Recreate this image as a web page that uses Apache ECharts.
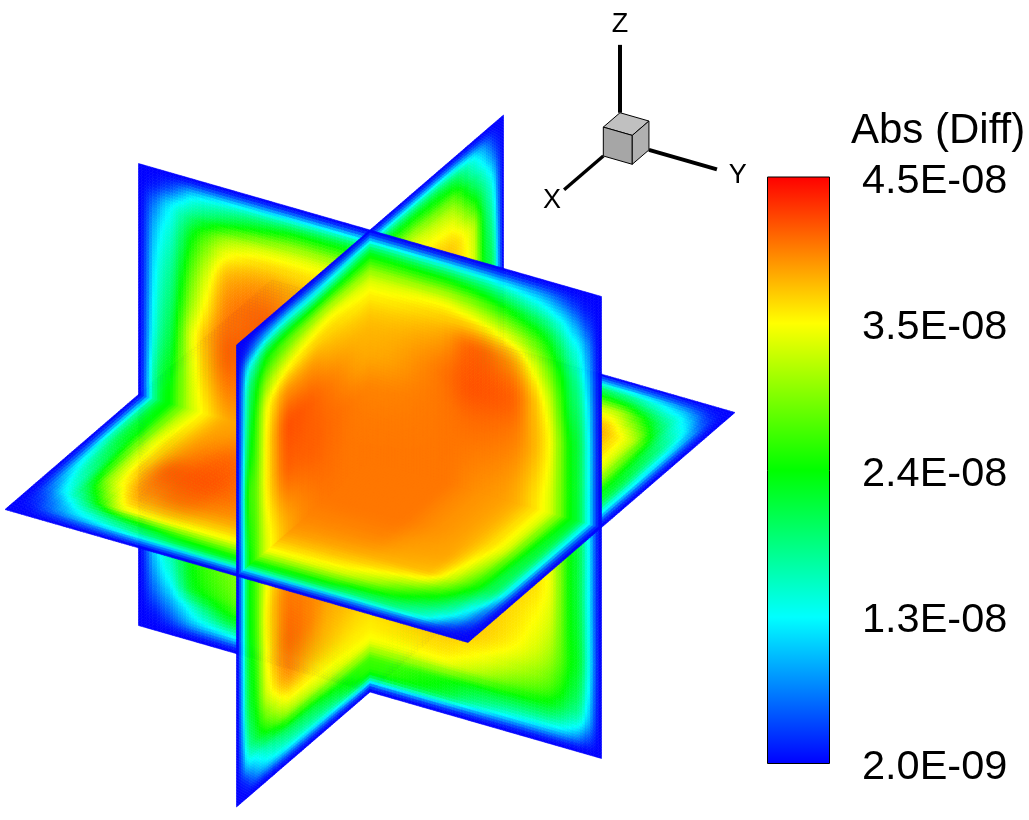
<!DOCTYPE html>
<html><head><meta charset="utf-8">
<style>html,body{margin:0;padding:0;background:#fff}#c{width:1029px;height:820px}</style>
<script src="https://cdn.jsdelivr.net/npm/echarts@6/dist/echarts.min.js"></script>
</head><body><div id="c"></div>
<script>
// Values are in units of 1E-9 at these plane coordinates (-1..1).
const gridNodes = [-1,-.94,-.85,-.77,-.6,-.45,-.3,0,.3,.45,.6,.77,.85,.94,1];
const edge = [2,2,2,2,2,2,2,2,2,2,2,2,2,2,2];
// sheet running left-back to right-front; rows z=+1..-1, columns -1..1
const planeA = [
 edge,
 [2,2.5,5,9,11,12,13,14,13,12,10,7,4.5,2.5,2],
 [2,6,13,17,22,25,27,27,27,25,21,15,11,5,2],
 [2,8,15,22,31,33,33.5,33,34,32,28,21,15,8,2],
 [2,10,18,27,38,39,38,37,38.5,41,39,29,21,11,2],
 [2,11,20,30,40,41,39,38,40,41.5,41,33,23,13,2],
 [2,12,22,33,41,41,40,39.5,40,40.5,40,34.5,25,14,2],
 [2,15,25,32,38,38.5,39,40,40,39,38,33,25,14,2],
 [2,12,22,30,33,35,36,39,38,37.5,37,34,25,14,2],
 [2,11,20,27,31,33,34.5,37.5,37.5,37,36,33,25,14.5,2],
 [2,10,18,24,29,31,33,36,37,36.5,35,31,25,15,2],
 [2,7,14,22,27,30,32,34,34,32,29,26,22,13,2],
 [2,5,10,15,23,25,26,27,25,23,22,21,18,11,2],
 [2,2.5,5,8,11,14,16,18,16,13,11,10,9,5,2],
 edge];
// sheet running right-back to left-front; rows z=+1..-1, columns -1..1
const planeB = [
 edge,
 [2,3,7,10,13,14,14,14,11,10,10,8,6,3,2],
 [2,6,13,17,25,26,27,27,27,26,25,22,17,9,2],
 [2,9,17,22,31,32,33,33,34,33,31,27,22,12,2],
 [2,12,22,32,36.5,37,37,37,38,39,39,34,26,14,2],
 [2,14,23,33,37,38,38,38,40,41,41.5,35,27,16,2],
 [2,15,24,34,38,38.5,39,39.5,40.5,41,41,35,28,18,2],
 [2,15,25,33,38,38.5,39,40,40,39.5,38,33,27,16,2],
 [2,15,24,33,38,38.5,39,39,39,39.5,40,35,27,16,2],
 [2,14,24,33,37,38,38,37.5,38,39.5,40.5,34.5,26,15.5,2],
 [2,14,24,32,36,36.5,37,36,37,38,39,33,25,15,2],
 [2,11,20,27,32,32.5,33,34,33,32,31,25,21,12,2],
 [2,8,14,20,24,25,26,27,24,22,21,17,14,9,2],
 [2,3,7,10,13,15,16,18,13,12,11,9,7,3,2],
 edge];
// horizontal sheet; rows back..front (-1..1), columns -1..1
const planeC = [
 edge,
 [2,2.5,5,9,12,13,14,14,14,12.5,11,8,6,3,2],
 [2,5,10,16,23,25,27,27,26,25,23,16,13,6,2],
 [2,7,15,22,30,32,33,33,33,33,32,22,16,9,2],
 [2,11,20,30,37,37.5,38,38,39,39,38.5,32,22,12,2],
 [2,12,22,32,37.5,38,38.5,38.5,39.5,39.5,39,33,24,13,2],
 [2,13,24,33,38,38.5,39,39,40,40,39,34,25,14,2],
 [2,15,25,32,38,38.5,39,40,40,39,38,33,25,14,2],
 [2,14,24,33,39.5,41,40.5,40,40,39,38,33,24,14,2],
 [2,12,22,32,41,41.5,40.5,39.5,39.5,38.5,38,31,23,13.5,2],
 [2,10,19,30,39.5,40.5,39.5,38.5,38,37.5,37,28,22,13,2],
 [2,6,14,20,34,35,34.5,34,33,31,27,21,16,8,2],
 [2,4,9,14,21,24,26,27,26,24,22,17,13,6,2],
 [2,2.5,5,7,10,12,13,14,13,12,12,10,6,3,2],
 edge];
const colorStops = ['#0000ff','#00ffff','#00ff00','#ffff00','#ff0000'];
const colorMin = 2, colorMax = 45;
const tickLabels = ['2.0E-09','1.3E-08','2.4E-08','3.5E-08','4.5E-08'];
const legendTitle = 'Abs (Diff)';
const triadLabels = ['X','Y','Z'];

// Scene projection (orthographic view of the three sheets)
const view = {o:[370,461], a:[231.5,66.5], b:[-133.5,115], z:[0,-231]};
const triad = {o:[620,141.6], scale:1/8, axisLen:3.35, labelAt:4.07};
function project(a, b, z, s, o){
  s = s||1; o = o||view.o;
  return [o[0]+s*(a*view.a[0]+b*view.b[0]+z*view.z[0]), o[1]+s*(a*view.a[1]+b*view.b[1]+z*view.z[1])];
}
const rgb = colorStops.map(h=>[1,3,5].map(i=>parseInt(h.substr(i,2),16)));
function colorOf(val){
  let t=(val-colorMin)/(colorMax-colorMin)*(rgb.length-1);
  t=Math.max(0,Math.min(rgb.length-1-1e-6,t));
  const k=Math.floor(t),f=t-k,p=rgb[k],q=rgb[k+1];
  return 'rgb('+Math.round(p[0]+(q[0]-p[0])*f)+','+Math.round(p[1]+(q[1]-p[1])*f)+','+Math.round(p[2]+(q[2]-p[2])*f)+')';
}
// Display shading between the read values: monotone cubic along both directions.
const n = gridNodes.length, FINE = 320;
function slopes(y){
  const d=new Array(n).fill(0);
  for(let i=1;i<n-1;i++){
    const h0=gridNodes[i]-gridNodes[i-1],h1=gridNodes[i+1]-gridNodes[i];
    const s0=(y[i]-y[i-1])/h0,s1=(y[i+1]-y[i])/h1;
    if(s0*s1>0){
      const w0=2*h1+h0,w1=h1+2*h0;d[i]=(w0+w1)/(w0/s0+w1/s1);
      // keep the rim deep blue: steeper entry out of the edge band
      if(i===1)d[i]=Math.max(d[i],1.3*s0);
      if(i===n-2)d[i]=Math.min(d[i],1.3*s1);
    }
  }
  return d;
}
function shade(y){
  const d=slopes(y),out=[];let k=0;
  for(let m=0;m<=FINE;m++){
    const x=-1+2*m/FINE;
    while(k<n-2&&x>gridNodes[k+1])k++;
    const h=gridNodes[k+1]-gridNodes[k],t=(x-gridNodes[k])/h,t2=t*t,t3=t2*t;
    out.push((2*t3-3*t2+1)*y[k]+(t3-2*t2+t)*h*d[k]+(-2*t3+3*t2)*y[k+1]+(t3-t2)*h*d[k+1]);
  }
  return out;
}
function raster(rows){
  const byRow=rows.map(shade),res=[];
  for(let m=0;m<=FINE;m++){res.push(shade(byRow.map(r=>r[m])));}
  return res; // res[col][row]
}
const planes = [
 {rows:planeA, wall:true, pt:(u,r)=>[u,0,r]},
 {rows:planeB, wall:true, pt:(u,r)=>[0,u,r]},
 {rows:planeC, wall:false, pt:(u,r)=>[u,r,0]}
];
planes.forEach(P=>{P.f=raster(P.rows);});
function sample(P,u,q){
  const c=Math.max(0,Math.min(FINE,Math.round((u+1)/2*FINE))),r=Math.max(0,Math.min(FINE,Math.round((q+1)/2*FINE)));
  return P.f[c][r];
}
// back to front: [plane, sign of column coord, sign of scene row coord]
const paintOrder = [[0,-1,-1],[1,-1,-1],[2,-1,-1],[0,-1,1],[1,-1,1],[1,1,-1],[0,1,-1],[2,-1,1],[2,1,-1],[2,1,1],[0,1,1],[1,1,1]];
const cells = [];
paintOrder.forEach(([p,su,sr])=>{
  for(let i=0;i<n-1;i++){for(let j=0;j<n-1;j++){
    const mu=gridNodes[j]+gridNodes[j+1], mq=gridNodes[i]+gridNodes[i+1];
    const mr=planes[p].wall?-mq:mq;
    if(mu*su>0&&mr*sr>0)cells.push([p,i,j]);
  }}
});
const PX_STEP=3;
function renderCell(params, api){
  const P=planes[api.value(0)], i=api.value(1), j=api.value(2);
  const u0=gridNodes[j],u1=gridNodes[j+1],q0=gridNodes[i],q1=gridNodes[i+1];
  const sign=P.wall?-1:1;
  const toPx=(u,q)=>{const c=P.pt(u,sign*q);return api.coord(project(c[0],c[1],c[2]));};
  const a0=toPx(u0,q0),a1=toPx(u1,q0),a2=toPx(u0,q1);
  const S=Math.max(1,Math.ceil(Math.hypot(a1[0]-a0[0],a1[1]-a0[1])/PX_STEP));
  const Q=Math.max(1,Math.ceil(Math.hypot(a2[0]-a0[0],a2[1]-a0[1])/PX_STEP));
  const kids=[];
  for(let a=0;a<S;a++){for(let b=0;b<Q;b++){
    const ua=u0+(u1-u0)*a/S,ub=u0+(u1-u0)*(a+1)/S,qa=q0+(q1-q0)*b/Q,qb=q0+(q1-q0)*(b+1)/Q;
    const col=colorOf(sample(P,(ua+ub)/2,(qa+qb)/2));
    kids.push({type:'polygon',silent:true,shape:{points:[toPx(ua,qa),toPx(ub,qa),toPx(ub,qb),toPx(ua,qb)]},
      style:{fill:col,stroke:col,lineWidth:0.6}});
  }}
  return {type:'group',children:kids};
}
function renderTriad(params, api){
  const pt=(a,b,z)=>api.coord(project(a,b,z,triad.scale,triad.o));
  const L=triad.axisLen, A=triad.labelAt;
  const ln=(p,q,w)=>({type:'line',shape:{x1:p[0],y1:p[1],x2:q[0],y2:q[1]},style:{stroke:'#000',lineWidth:w}});
  const face=(pts,fill)=>({type:'polygon',shape:{points:pts},style:{fill:fill,stroke:'#000',lineWidth:1}});
  const txt=(s,p)=>({type:'text',style:{text:s,x:p[0],y:p[1],fill:'#000',font:'27px "Liberation Sans"',textAlign:'center',textVerticalAlign:'middle'}});
  return {type:'group',children:[
    ln(pt(0,1,0),pt(0,L,0),3.4), ln(pt(1,0,0),pt(L,0,0),4), ln(pt(0,0,1),pt(0,0,L),4),
    face([pt(0,0,1),pt(1,0,1),pt(1,1,1),pt(0,1,1)],'#c0c0c0'),
    face([pt(0,1,1),pt(1,1,1),pt(1,1,0),pt(0,1,0)],'#a6a6a6'),
    face([pt(1,0,1),pt(1,1,1),pt(1,1,0),pt(1,0,0)],'#b0b0b0'),
    txt(triadLabels[0],pt(0,A,0)), txt(triadLabels[1],pt(A,0,0)), txt(triadLabels[2],pt(0,0,A))
  ]};
}
const chart = echarts.init(document.getElementById('c'),null,{renderer:'canvas'});
const font = '"Liberation Sans"';
chart.setOption({
  animation:false, backgroundColor:'#fff',
  title:{text:legendTitle,left:851,top:110,padding:0,textStyle:{fontFamily:font,fontSize:42,fontWeight:'normal',color:'#000'}},
  grid:[{left:0,top:0,width:1029,height:820},{left:767,top:176.5,width:63,height:587.5},{left:767,top:181.5,width:63,height:586}],
  xAxis:[{type:'value',gridIndex:0,min:0,max:1029,show:false},{type:'category',gridIndex:1,data:[legendTitle],show:false},{type:'value',gridIndex:2,min:0,max:1,show:false}],
  yAxis:[{type:'value',gridIndex:0,min:0,max:820,inverse:true,show:false},
    {type:'value',gridIndex:1,min:0,max:4,show:false},
    {type:'value',gridIndex:2,min:0,max:4,interval:1,position:'right',splitLine:{show:false},axisLine:{show:false},axisTick:{show:false},
     axisLabel:{margin:32,fontFamily:font,fontSize:41.5,color:'#000',formatter:(v)=>tickLabels[Math.round(v)]}}],
  series:[
    {type:'custom',xAxisIndex:0,yAxisIndex:0,data:cells,renderItem:renderCell,progressive:0,silent:true,clip:false,encode:{x:[],y:[]}},
    {type:'custom',xAxisIndex:0,yAxisIndex:0,data:[[0]],renderItem:renderTriad,silent:true,clip:false,encode:{x:[],y:[]}},
    {type:'bar',xAxisIndex:1,yAxisIndex:1,data:[tickLabels.length-1],barWidth:'100%',silent:true,
     itemStyle:{borderColor:'#000',borderWidth:1,color:{type:'linear',x:0,y:1,x2:0,y2:0,
       colorStops:colorStops.map((c,i)=>({offset:i/(colorStops.length-1),color:c}))}}}
  ]
});
</script></body></html>
